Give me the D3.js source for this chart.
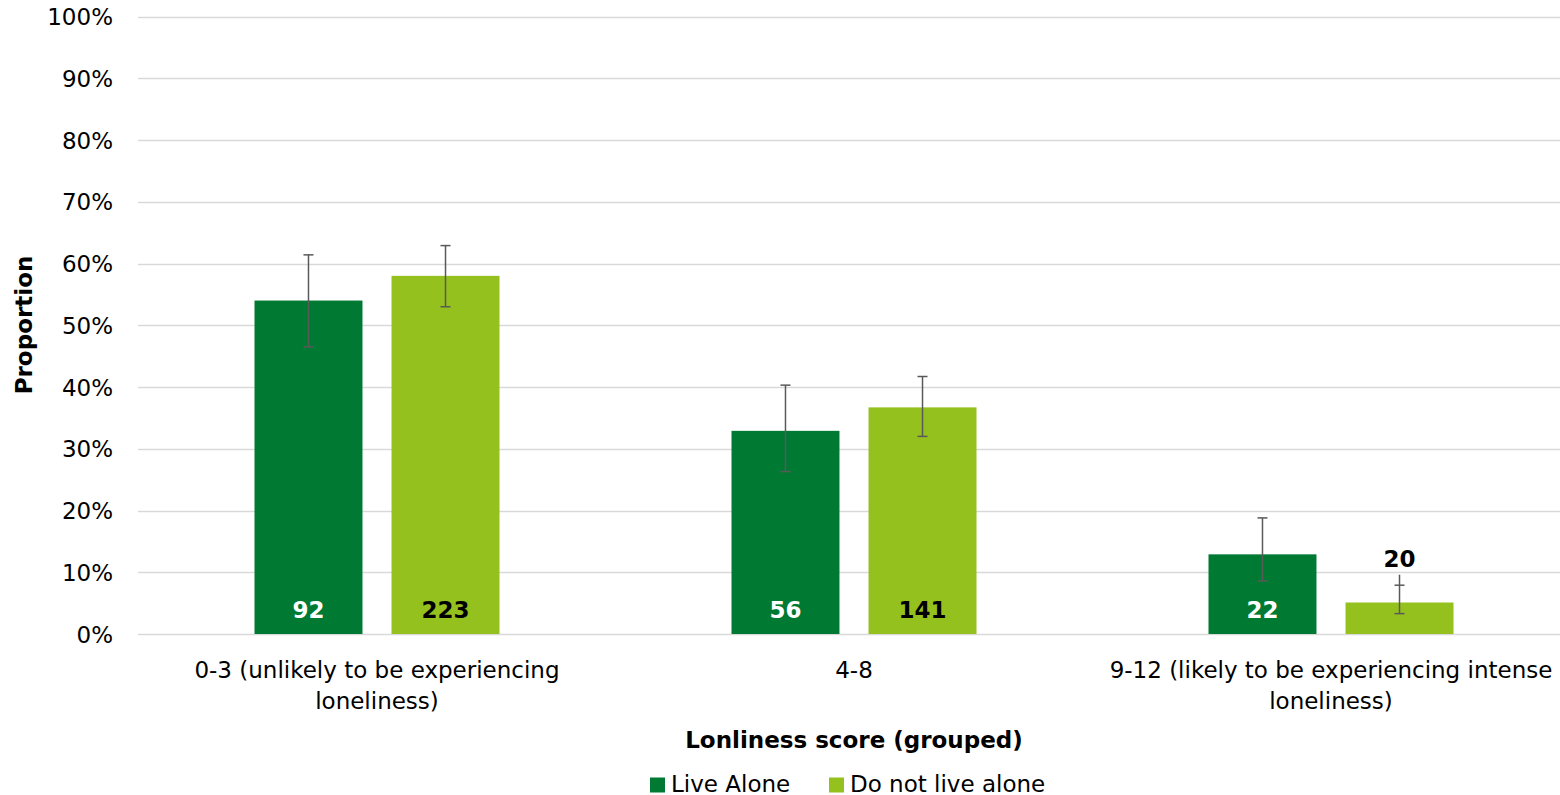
<!DOCTYPE html>
<html><head><meta charset="utf-8">
<script src="https://cdn.jsdelivr.net/npm/d3@7"></script>
<style>body{margin:0;background:#fff}svg{display:block}text{font-family:"DejaVu Sans",Verdana,sans-serif}</style>
</head><body>
<svg id="chart" width="1560" height="795"></svg>
<script>
const categories = ["0-3 (unlikely to be experiencing loneliness)", "4-8", "9-12 (likely to be experiencing intense loneliness)"];
const categoryLines = [["0-3 (unlikely to be experiencing", "loneliness)"], ["4-8"], ["9-12 (likely to be experiencing intense", "loneliness)"]];
const seriesNames = ["Live Alone", "Do not live alone"];
const liveAlone = [54.0, 32.9, 12.9];
const notLiveAlone = [58.0, 36.7, 5.1];
const liveAloneLow = [46.5, 26.3, 8.6];
const liveAloneHigh = [61.4, 40.3, 18.8];
const notLiveAloneLow = [53.0, 32.0, 3.3];
const notLiveAloneHigh = [62.9, 41.7, 7.9];
const notLiveAloneWhiskerTop = [null, null, 9.6];
const liveAloneN = [92, 56, 22];
const notLiveAloneN = [223, 141, 20];
const yTicks = [0, 10, 20, 30, 40, 50, 60, 70, 80, 90, 100];

const colors = {"Live Alone": "#007A33", "Do not live alone": "#95C11F"};
const labelColors = {"Live Alone": "#ffffff", "Do not live alone": "#000000"};

const svg = d3.select("#chart");
const y = d3.scaleLinear().domain([0, 100]).range([634, 16.5]);
const x0 = d3.scaleBand().domain(categories).range([138.5, 1569.5]).padding(0);
const groupW = 245;
const x1 = d3.scaleBand().domain(seriesNames).range([0, groupW]).paddingInner(0.212).paddingOuter(0);

// gridlines
const yAxis = d3.axisLeft(y).tickValues(yTicks).tickFormat(d => d + "%").tickSize(0).tickPadding(0);
const gAxis = svg.append("g").attr("transform", "translate(113,0)").call(yAxis);
gAxis.select(".domain").remove();
gAxis.selectAll("text").attr("font-size", 23).attr("fill", "#000").attr("font-family", "DejaVu Sans").attr("dy", "0.35em");

svg.append("g").selectAll("line").data(yTicks).join("line")
  .attr("x1", 138).attr("x2", 1560)
  .attr("y1", d => Math.round(y(d)) + 0.5).attr("y2", d => Math.round(y(d)) + 0.5)
  .attr("stroke", "#d9d9d9").attr("stroke-width", 1.5);

const rows = categories.map((c, i) => [
  {cat: c, s: "Live Alone", v: liveAlone[i], lo: liveAloneLow[i], hi: liveAloneHigh[i], top: null, n: liveAloneN[i]},
  {cat: c, s: "Do not live alone", v: notLiveAlone[i], lo: notLiveAloneLow[i], hi: notLiveAloneHigh[i], top: notLiveAloneWhiskerTop[i], n: notLiveAloneN[i]}
]);

const groups = svg.append("g").selectAll("g").data(rows).join("g")
  .attr("transform", d => `translate(${x0(d[0].cat) + (x0.bandwidth() - groupW) / 2},0)`);

groups.selectAll("rect").data(d => d).join("rect")
  .attr("x", d => x1(d.s)).attr("width", x1.bandwidth())
  .attr("y", d => y(d.v)).attr("height", d => y(0) - y(d.v))
  .attr("fill", d => colors[d.s]);

// error bars
const eb = groups.selectAll("g.eb").data(d => d).join("g").attr("class", "eb")
  .attr("transform", d => `translate(${x1(d.s) + x1.bandwidth() / 2},0)`);
eb.append("line").attr("x1", 0).attr("x2", 0)
  .attr("y1", d => y(d.lo)).attr("y2", d => y(d.top != null ? d.top : d.hi))
  .attr("stroke", "#595959").attr("stroke-width", 1.5);
eb.append("line").attr("x1", -5).attr("x2", 5).attr("y1", d => y(d.lo)).attr("y2", d => y(d.lo))
  .attr("stroke", "#595959").attr("stroke-width", 1.5);
eb.append("line").attr("x1", -5).attr("x2", 5).attr("y1", d => y(d.hi)).attr("y2", d => y(d.hi))
  .attr("stroke", "#595959").attr("stroke-width", 1.5);

// count labels
groups.selectAll("text.n").data(d => d).join("text").attr("class", "n")
  .attr("x", d => x1(d.s) + x1.bandwidth() / 2)
  .attr("y", d => (y(0) - y(d.v) < 45) ? y(d.top != null ? d.top : d.hi) - 8 : 618)
  .attr("text-anchor", "middle").attr("font-size", 23).attr("font-weight", "bold")
  .attr("fill", d => (y(0) - y(d.v) < 45) ? "#000" : labelColors[d.s])
  .text(d => d.n);

// category labels
const cl = svg.append("g").selectAll("text").data(categories).join("text")
  .attr("x", d => x0(d) + x0.bandwidth() / 2).attr("y", 678)
  .attr("text-anchor", "middle").attr("font-size", 23).attr("fill", "#000");
cl.each(function(d, i) {
  d3.select(this).selectAll("tspan").data(categoryLines[i]).join("tspan")
    .attr("x", x0(d) + x0.bandwidth() / 2).attr("dy", (t, j) => j === 0 ? 0 : 31).text(t => t);
});

// axis titles
svg.append("text").attr("x", 854).attr("y", 748).attr("text-anchor", "middle")
  .attr("font-size", 23).attr("font-weight", "bold").text("Lonliness score (grouped)");
svg.append("text").attr("transform", "translate(32,325) rotate(-90)").attr("text-anchor", "middle")
  .attr("font-size", 23).attr("font-weight", "bold").text("Proportion");

// legend
const legX = [650, 829];
const leg = svg.append("g").selectAll("g").data(seriesNames).join("g")
  .attr("transform", (d, i) => `translate(${legX[i]},777.5)`);
leg.append("rect").attr("width", 15).attr("height", 15).attr("fill", d => colors[d]);
leg.append("text").attr("x", 21).attr("y", 14).attr("font-size", 23).text(d => d);
</script>
</body></html>
